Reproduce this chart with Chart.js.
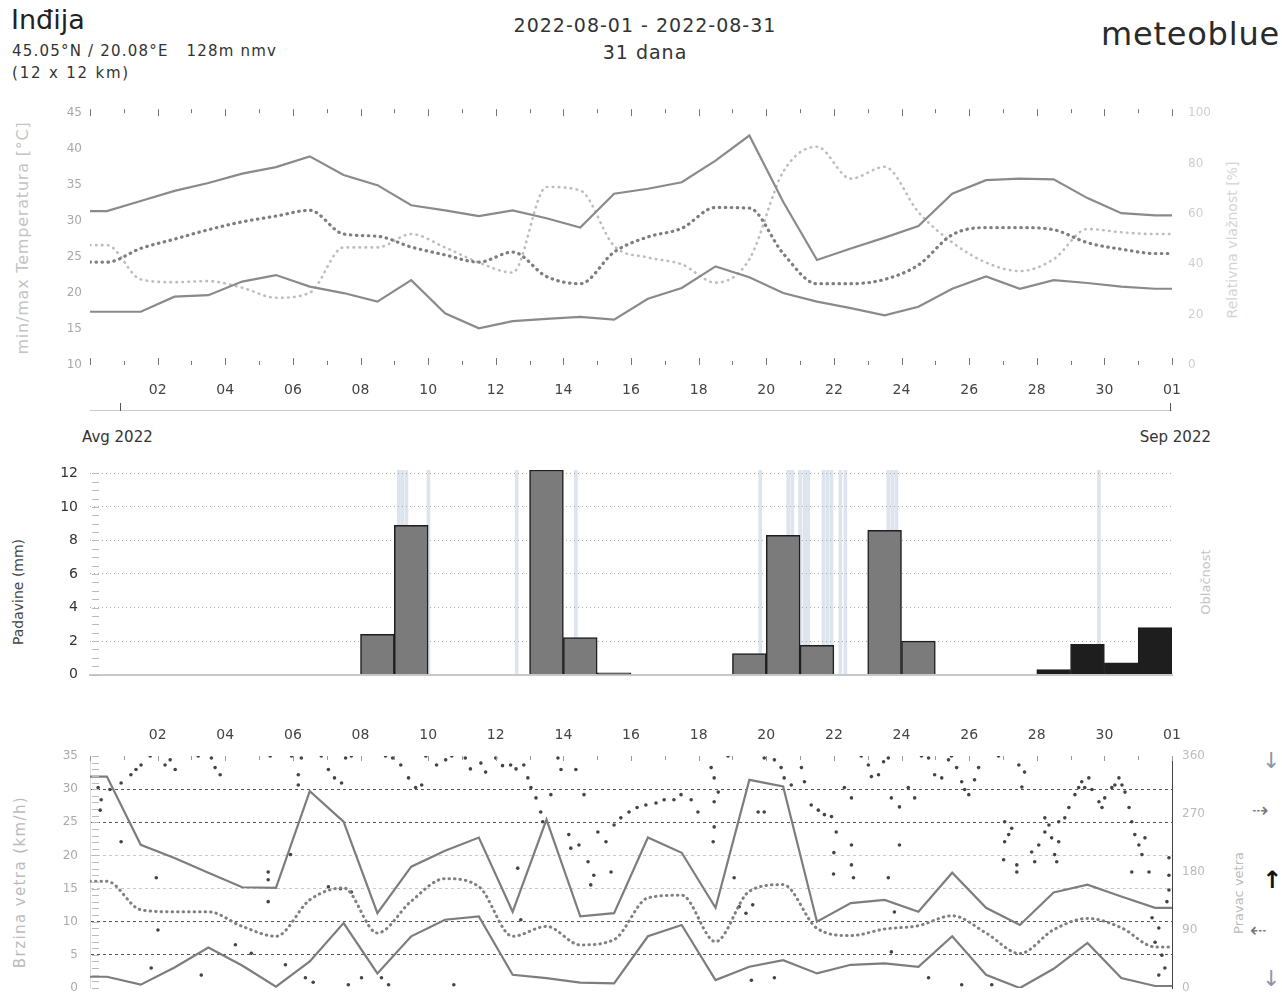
<!DOCTYPE html>
<html>
<head>
<meta charset="utf-8">
<script src="https://cdn.jsdelivr.net/npm/chart.js@4.4.1/dist/chart.umd.min.js"></script>
<style>
body{margin:0;background:#fff;width:1282px;height:992px;overflow:hidden;position:relative;font-family:"DejaVu Sans",sans-serif;color:#333}
.t{position:absolute;white-space:nowrap}
.r{position:absolute;white-space:nowrap;transform:translate(-50%,-50%) rotate(-90deg)}
canvas{position:absolute;left:0}
</style>
</head>
<body>
<div class="t" style="left:11px;top:4px;font-size:27px;color:#222">Inđija</div>
<div class="t" style="left:12px;top:42px;font-size:15px;letter-spacing:1.2px">45.05°N / 20.08°E &nbsp;&nbsp;128m nmv</div>
<div class="t" style="left:12px;top:64px;font-size:15px;letter-spacing:1.8px">(12 x 12 km)</div>
<div class="t" style="left:0;width:1290px;text-align:center;top:12px;font-size:19px;line-height:27px;letter-spacing:1px">2022-08-01 - 2022-08-31<br>31 dana</div>
<div class="t" style="right:2px;top:15px;font-size:32px;color:#2a2a2a;letter-spacing:0.8px">meteoblue</div>

<div class="r" style="left:22px;top:238px;font-size:16px;letter-spacing:0.8px;color:#c4c4c4">min/max Temperatura [°C]</div>
<div class="r" style="left:1232px;top:240px;font-size:14px;color:#d4d4d4">Relativna vlažnost [%]</div>
<div class="t" style="left:90px;top:410px;width:1082px;height:1px;background:#ccc"></div>
<div class="t" style="left:120px;top:403px;width:1px;height:8px;background:#555"></div>
<div class="t" style="left:1170px;top:403px;width:1px;height:8px;background:#555"></div>
<div class="t" style="left:82px;top:428px;font-size:15px">Avg 2022</div>
<div class="t" style="right:71px;top:428px;font-size:15px">Sep 2022</div>

<div class="r" style="left:18px;top:592px;font-size:14px;color:#444">Padavine (mm)</div>
<div class="r" style="left:1205px;top:582px;font-size:13px;color:#c4c4c4">Oblačnost</div>

<div class="r" style="left:20px;top:882px;font-size:15px;letter-spacing:1.4px;color:#bbb">Brzina vetra (km/h)</div>
<div class="r" style="left:1238px;top:893px;font-size:13px;color:#bbb">Pravac vetra</div>
<div class="t" style="left:1262px;top:748px;font-size:22px;color:#8896aa">↓</div>
<div class="t" style="left:1252px;top:798px;font-size:20px;color:#777">⇢</div>
<div class="t" style="left:1262px;top:866px;font-size:24px;color:#111;font-weight:bold">↑</div>
<div class="t" style="left:1250px;top:918px;font-size:20px;color:#777">⇠</div>
<div class="t" style="left:1262px;top:966px;font-size:22px;color:#8896aa">↓</div>

<canvas id="temp" width="1282" height="345" style="top:90px"></canvas>
<canvas id="pad" width="1282" height="255" style="top:440px"></canvas>
<canvas id="vetar" width="1282" height="310" style="top:700px"></canvas>

<script>
// oznake dana na x osi (svaki drugi dan)
const oznakeDana = ['02','04','06','08','10','12','14','16','18','20','22','24','26','28','30','01'];
const podeociPad = [0,2,4,6,8,10,12];

// temperatura (°C), jedna vrednost po danu
const tMax = [31.4,32.8,34.2,35.3,36.6,37.5,39.0,36.4,35.0,32.2,31.5,30.7,31.5,30.4,29.1,33.8,34.5,35.4,38.4,41.9,32.7,24.6,26.2,27.7,29.3,33.8,35.7,35.9,35.8,33.2,31.1,30.8];
const tMin = [17.4,17.4,19.5,19.7,21.6,22.5,20.9,20.0,18.8,21.8,17.2,15.1,16.1,16.4,16.7,16.3,19.2,20.7,23.7,22.2,20.0,18.8,17.9,16.9,18.1,20.6,22.3,20.6,21.8,21.4,20.9,20.6];
const tSr = [24.3,26.2,27.5,28.8,29.9,30.7,31.5,28.2,27.9,26.4,25.3,24.3,25.7,22.3,21.3,25.7,27.8,29.0,31.9,31.8,25.5,21.3,21.3,21.9,23.9,28.1,29.1,29.1,28.8,27.0,26.1,25.5];
const vlaga = [47.6,34,32.9,33.3,30.7,26.7,28.7,46.7,46.7,52,46.7,40.7,36.7,70.7,69.3,47.3,42.7,40,32.7,42,76.7,86.7,74,78.7,60.7,48.7,40.7,37.3,42,54,52.7,52];

// padavine (mm)
const padavine = [0,0,0,0,0,0,0,0,2.4,8.9,0,0,0,12.2,2.2,0.1,0,0,0,1.25,8.3,1.75,0,8.6,2.0,0,0,0,0,0,0,0];
const padavineCrne = [0,0,0,0,0,0,0,0,0,0,0,0,0,0,0,0,0,0,0,0,0,0,0,0,0,0,0,0,0.3,1.8,0.7,2.8];
const pojave = [9.13,9.24,9.36,10.01,12.62,14.37,19.82,20.65,20.77,21.0,21.13,21.24,21.69,21.81,21.93,22.19,22.34,23.61,23.73,23.85,29.84];

// vetar (km/h)
const vMax = [31.9,21.6,19.6,17.4,15.2,15.1,29.7,25.1,11.3,18.3,20.7,22.7,11.5,25.4,10.8,11.3,22.7,20.4,12.1,31.4,30.4,10.0,12.8,13.3,11.5,17.4,12.1,9.5,14.4,15.6,13.8,12.1];
const vMin = [1.7,0.5,3.1,6.1,3.4,0.2,4.0,9.8,2.2,7.8,10.3,10.8,2.0,1.5,0.8,0.7,7.8,9.5,1.2,3.2,4.2,2.2,3.5,3.7,3.2,7.8,2.0,0.0,2.9,6.8,1.5,0.3];
const vSr = [16.1,11.8,11.5,11.5,9.3,7.8,13.3,15.1,8.3,13.1,16.5,15.3,7.8,9.3,6.5,7.3,13.6,14.0,7.0,14.6,15.6,9.0,7.9,8.9,9.4,10.9,8.3,5.2,8.8,10.5,9.1,6.2];

// pravac vetra (dan, stepeni)
const pravacX = [0.24,0.30,0.33,0.59,0.92,0.92,1.21,1.36,1.51,1.78,1.96,2.01,1.81,2.22,2.37,2.52,3.20,3.59,3.70,3.85,3.29,4.30,4.77,5.33,5.27,5.27,5.27,5.78,5.93,5.96,6.16,6.16,6.25,6.37,6.60,6.84,7.05,7.23,7.44,7.56,7.73,7.05,7.41,7.73,7.64,8.03,8.62,8.83,8.74,8.95,9.19,9.42,9.63,9.81,9.93,10.25,10.52,10.70,10.76,11.10,11.25,11.56,11.70,12.00,12.20,12.44,12.60,12.65,12.74,12.83,12.95,13.04,13.19,13.33,13.39,13.63,13.84,13.93,14.16,14.22,14.37,14.46,14.61,14.73,14.81,14.90,15.02,15.26,15.41,15.50,15.70,15.94,16.18,16.44,16.74,16.98,17.27,17.48,17.78,17.98,18.37,18.46,18.58,18.46,18.46,18.43,18.87,19.05,19.20,19.40,19.60,19.76,19.94,19.94,20.24,20.44,20.53,20.74,21.04,21.13,19.56,20.24,21.33,21.54,21.72,21.93,22.07,22.00,21.99,22.31,22.52,22.52,22.52,22.58,22.81,23.02,23.11,23.32,23.47,23.61,23.70,23.94,23.94,23.61,23.79,23.70,24.20,24.39,24.59,24.80,24.98,25.19,25.39,25.48,25.63,25.78,25.87,25.99,26.16,26.28,24.80,25.78,26.87,27.05,27.26,27.17,27.05,27.02,27.41,27.41,27.47,27.64,27.56,26.67,27.85,27.94,28.06,28.24,28.36,28.44,28.24,28.65,28.53,28.59,28.65,28.83,28.95,29.13,29.24,29.33,29.42,29.54,29.63,29.84,29.93,30.01,30.22,30.31,30.43,30.52,30.61,30.73,30.81,30.90,31.02,31.11,31.20,30.81,31.32,31.41,31.61,31.50,31.70,31.79,31.91,31.91,31.91,31.85,31.61];
const pravacDeg = [311,276,292,308,318,227,331,339,346,360,171,90,31,346,354,339,360,357,342,331,20,67,54,360,180,168,134,36,207,360,331,315,357,16,9,360,339,326,318,357,360,157,154,149,5,16,16,5,360,357,346,326,311,315,360,346,354,360,5,357,340,349,335,357,345,346,340,186,106,346,326,311,295,273,258,300,357,339,238,217,339,222,300,196,160,175,242,227,180,253,264,273,280,284,287,292,292,300,292,273,342,326,304,289,250,227,360,171,126,116,129,273,273,357,354,342,326,315,342,320,12,16,284,276,269,266,242,210,177,311,295,222,191,171,360,346,328,331,351,357,295,281,222,171,118,56,311,295,360,357,331,326,354,360,342,320,308,300,323,342,16,5,360,258,248,238,227,199,191,180,346,335,312,5,211,196,222,242,253,233,264,227,207,196,258,264,280,300,311,320,311,326,308,289,280,295,311,315,326,315,304,280,258,238,222,207,233,180,180,109,93,71,51,31,202,175,152,134,20];

Chart.defaults.font.family = '"DejaVu Sans", sans-serif';
Chart.defaults.animation = false;

function tacke(vals) {
  const p = vals.map((v, i) => ({x: i + 0.5, y: v}));
  return [{x: 0, y: vals[0]}].concat(p, [{x: vals.length, y: vals[vals.length - 1]}]);
}
function stubici(vals) {
  return vals.map((v, i) => ({x: i + 0.5, y: v}));
}

// pomeri padding dok povrsina grafika ne legne na zeljeno mesto
function poravnaj(chart, gore, dole) {
  for (let i = 0; i < 4; i++) {
    const a = chart.chartArea, p = chart.options.layout.padding;
    const dt = gore - a.top, db = a.bottom - dole;
    if (Math.abs(dt) < 0.5 && Math.abs(db) < 0.5) break;
    p.top = (p.top || 0) + dt;
    p.bottom = (p.bottom || 0) + db;
    chart.update();
  }
}

// kratke crtice za dane i male podeoke na y osi
const crtice = {
  id: 'crtice',
  afterDatasetsDraw(chart, args, o) {
    const ctx = chart.ctx, a = chart.chartArea, x = chart.scales.x;
    ctx.save();
    ctx.strokeStyle = o.boja;
    ctx.lineWidth = 1;
    ctx.beginPath();
    for (let d = 0; d <= 32; d++) {
      const px = Math.round(x.getPixelForValue(d)) + 0.5;
      const l = d % 2 ? o.kratko : o.dugo;
      if (o.gore !== undefined) { ctx.moveTo(px, a.top + o.gore); ctx.lineTo(px, a.top + o.gore + l); }
      if (o.dole) { ctx.moveTo(px, a.bottom); ctx.lineTo(px, a.bottom - l); }
    }
    ctx.stroke();
    if (o.korak) {
      const y = chart.scales.y;
      ctx.strokeStyle = '#bbb';
      ctx.beginPath();
      for (let v = y.min; v <= y.max; v += o.korak) {
        const py = Math.round(y.getPixelForValue(v)) + 0.5;
        ctx.moveTo(a.left + 2, py); ctx.lineTo(a.left + 9, py);
      }
      ctx.stroke();
    }
    ctx.restore();
  }
};

const xOsa = (poz, pad, h) => ({
  type: 'linear', position: poz, min: 0, max: 32, offset: false,
  grid: {display: false, drawTicks: false}, border: {display: false},
  ticks: {stepSize: 2, autoSkip: false, maxRotation: 0, padding: pad, color: '#444', font: {size: 14},
    callback: v => v > 0 ? oznakeDana[v / 2 - 1] : ''},
  afterFit: s => { s.height = h; }
});

const temp = new Chart(document.getElementById('temp'), {
  type: 'line',
  data: {datasets: [
    {data: tacke(tMax), borderColor: '#8a8a8a', borderWidth: 2.2, pointRadius: 0, tension: 0},
    {data: tacke(tMin), borderColor: '#8a8a8a', borderWidth: 2.2, pointRadius: 0, tension: 0},
    {data: tacke(tSr), borderColor: '#7e7e7e', borderWidth: 3.2, borderDash: [0.5, 5.5], borderCapStyle: 'round', pointRadius: 0, cubicInterpolationMode: 'monotone'},
    {data: tacke(vlaga), yAxisID: 'y2', borderColor: '#bdbdbd', borderWidth: 2.6, borderDash: [0.5, 5.5], borderCapStyle: 'round', pointRadius: 0, cubicInterpolationMode: 'monotone'}
  ]},
  options: {
    responsive: false, devicePixelRatio: 1,
    layout: {padding: {top: 15, bottom: 5}},
    plugins: {legend: {display: false}, tooltip: {enabled: false},
      crtice: {boja: '#777', gore: -4, dole: true, kratko: 4, dugo: 7}},
    scales: {
      x: xOsa('bottom', 17, 65),
      y: {min: 10, max: 45, grid: {display: false, drawTicks: false}, border: {display: false},
        ticks: {stepSize: 5, padding: 8, color: '#a8a8a8', font: {size: 12}},
        afterFit: s => { s.width = 90; }},
      y2: {position: 'right', min: 0, max: 100, grid: {display: false, drawTicks: false}, border: {display: false},
        ticks: {stepSize: 20, padding: 16, color: '#cfcfcf', font: {size: 12}},
        afterFit: s => { s.width = 110; }}
    }
  },
  plugins: [crtice]
});
poravnaj(temp, 24, 275);

const pad = new Chart(document.getElementById('pad'), {
  type: 'bar',
  data: {datasets: [
    {data: stubici(padavine), backgroundColor: '#7b7b7b', borderColor: '#1e1e1e', borderWidth: 1.5, borderSkipped: 'bottom',
      barPercentage: 1, categoryPercentage: 1, grouped: false, order: 1},
    {data: stubici(padavineCrne), backgroundColor: '#1e1e1e', borderColor: '#1e1e1e', borderWidth: 1, borderSkipped: 'bottom',
      barPercentage: 1, categoryPercentage: 1, grouped: false, order: 1},
    {data: pojave.map(x => ({x: x, y: 12.2})), xAxisID: 'xl', backgroundColor: 'rgba(150,172,200,0.32)',
      barThickness: 3, grouped: false, order: 3}
  ]},
  options: {
    responsive: false, devicePixelRatio: 1,
    layout: {padding: {top: 20, bottom: 5}},
    plugins: {legend: {display: false}, tooltip: {enabled: false},
      crtice: {boja: 'rgba(0,0,0,0)', kratko: 0, dugo: 0, korak: 0.5}},
    scales: {
      x: {type: 'linear', min: 0, max: 32, offset: false, grid: {display: false, drawTicks: false},
        border: {display: true, color: '#c8c8c8', width: 2}, ticks: {display: false},
        afterFit: s => { s.height = 12; }},
      xl: {type: 'linear', min: 0, max: 32, offset: false, display: false},
      y: {min: 0, max: 12.2,
        afterBuildTicks: s => { s.ticks = podeociPad.map(v => ({value: v})); },
        grid: {drawTicks: false, color: c => c.tick.value > 0 ? '#aaa' : 'rgba(0,0,0,0)'},
        border: {display: false, dash: [1, 3]},
        ticks: {padding: 12, color: '#333', font: {size: 14}},
        afterFit: s => { s.width = 90; }},
      y2: {position: 'right', min: 0, max: 100, grid: {display: false}, border: {display: false},
        ticks: {display: false}, afterFit: s => { s.width = 110; }}
    }
  },
  plugins: [crtice]
});
poravnaj(pad, 30, 238);

const vetar = new Chart(document.getElementById('vetar'), {
  type: 'line',
  data: {datasets: [
    {data: tacke(vMax), borderColor: '#7d7d7d', borderWidth: 2.2, pointRadius: 0, tension: 0},
    {data: tacke(vMin), borderColor: '#7d7d7d', borderWidth: 2.2, pointRadius: 0, tension: 0},
    {data: tacke(vSr), borderColor: '#808080', borderWidth: 3, borderDash: [0.5, 5], borderCapStyle: 'round', pointRadius: 0, cubicInterpolationMode: 'monotone'},
    {data: pravacX.map((x, i) => ({x: x, y: pravacDeg[i]})), yAxisID: 'y2', showLine: false,
      pointRadius: 1.8, pointBackgroundColor: '#444', pointBorderWidth: 0}
  ]},
  options: {
    responsive: false, devicePixelRatio: 1,
    layout: {padding: {top: 18, bottom: 22}},
    plugins: {legend: {display: false}, tooltip: {enabled: false},
      crtice: {boja: '#999', gore: 0, kratko: 4, dugo: 5, korak: 1}},
    scales: {
      x: xOsa('top', 12, 38),
      y: {min: 0, max: 35,
        grid: {drawTicks: false, color: c => [5, 10, 25, 30].includes(c.tick.value) ? '#555' : (c.tick.value === 15 || c.tick.value === 20 ? '#c8c8c8' : 'rgba(0,0,0,0)')},
        border: {display: true, color: '#ddd', dash: [3, 3]},
        ticks: {stepSize: 5, padding: 12, color: '#aaa', font: {size: 12}},
        afterFit: s => { s.width = 90; }},
      y2: {position: 'right', min: 0, max: 360, grid: {display: false, drawTicks: false},
        border: {display: true, color: '#444'},
        ticks: {stepSize: 90, padding: 10, color: '#bbb', font: {size: 12}},
        afterFit: s => { s.width = 110; }}
    }
  },
  plugins: [crtice]
});
poravnaj(vetar, 56, 288);
</script>
</body>
</html>
